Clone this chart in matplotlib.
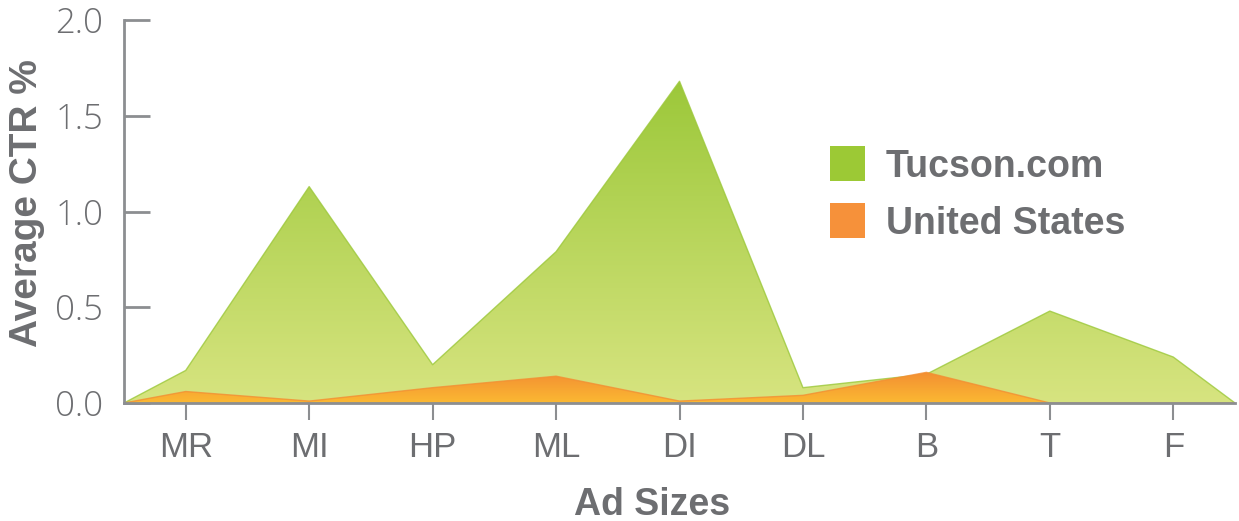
import numpy as np
import matplotlib
matplotlib.use('Agg')
import matplotlib.pyplot as plt
from matplotlib.colors import LinearSegmentedColormap
from matplotlib.patches import Rectangle

# Dados do gráfico
ad_sizes = ['MR', 'MI', 'HP', 'ML', 'DI', 'DL', 'B', 'T', 'F']
tucson = [0.17, 1.13, 0.20, 0.79, 1.68, 0.08, 0.15, 0.48, 0.24]
united_states = [0.06, 0.01, 0.08, 0.14, 0.01, 0.04, 0.16, 0.0, 0.0]
y_ticks = [0.0, 0.5, 1.0, 1.5, 2.0]

gray_text = '#6d6e71'
gray_axis = '#8c8e91'

plt.rcParams['font.family'] = ['Liberation Sans', 'DejaVu Sans']

fig = plt.figure(figsize=(12.39, 5.21), dpi=100)
ax = fig.add_axes([124 / 1239, 1 - 403 / 521, 1111 / 1239, 383 / 521])

pos = np.arange(1, len(ad_sizes) + 1)
xs = np.r_[0.5, pos, len(ad_sizes) + 0.5]


def gradient_area(values, top_color, bottom_color, z):
    ys = np.r_[0, values, 0]
    poly = ax.fill_between(xs, ys, 0, facecolor='none', edgecolor='none')
    cmap = LinearSegmentedColormap.from_list('g', [bottom_color, top_color])
    grad = np.linspace(0, 1, 256).reshape(-1, 1)
    im = ax.imshow(grad, extent=[xs[0], xs[-1], 0, max(ys)], origin='lower',
                   cmap=cmap, aspect='auto', zorder=z, interpolation='bilinear')
    im.set_clip_path(poly.get_paths()[0], transform=ax.transData)
    ax.plot(xs, ys, color=top_color, lw=1.0, zorder=z + 0.1, alpha=0.8)


gradient_area(tucson, '#9cc83a', '#d7e480', 2)
gradient_area(united_states, '#f38f33', '#fbb932', 3)

ax.set_xlim(0.5, len(ad_sizes) + 0.5)
ax.set_ylim(0, 2.0)

ax.set_xticks(pos)
ax.set_xticklabels(ad_sizes)
ax.set_yticks(y_ticks)
ax.set_yticklabels(['%.1f' % v for v in y_ticks])

for s in ['top', 'right']:
    ax.spines[s].set_visible(False)
for s in ['left', 'bottom']:
    ax.spines[s].set_color(gray_axis)
    ax.spines[s].set_linewidth(2)
    ax.spines[s].set_zorder(5)

ax.tick_params(axis='y', direction='in', length=19, width=2, color=gray_axis,
               labelsize=25, labelcolor=gray_text, pad=15)
ax.tick_params(axis='x', direction='out', length=12, width=1.5, color=gray_axis,
               labelsize=25, labelcolor=gray_text, pad=8)
for lab in ax.get_yticklabels():
    lab.set_fontfamily(['Open Sans', 'DejaVu Sans'])
    lab.set_fontweight('light')

fig.text(652 / 1239, 1 - 515 / 521, 'Ad Sizes', ha='center', va='baseline',
         fontsize=27, fontweight='bold', color=gray_text)
fig.text(27 / 1239, 1 - 203 / 521, 'Average CTR %', rotation=90, ha='center',
         va='center', fontsize=28, fontweight='bold', color=gray_text)

# legenda manual
legend_items = [('Tucson.com', '#9cc935', 146), ('United States', '#f6913a', 203)]
for label, color, top in legend_items:
    fig.add_artist(Rectangle((830 / 1239, 1 - (top + 35) / 521), 35 / 1239, 35 / 521,
                             transform=fig.transFigure, facecolor=color, edgecolor='none'))
    fig.text(886 / 1239, 1 - (top + 17.5) / 521, label, ha='left', va='center_baseline',
             fontsize=27, fontweight='bold', color=gray_text)

plt.savefig('out.png', dpi=100)
plt.close()
